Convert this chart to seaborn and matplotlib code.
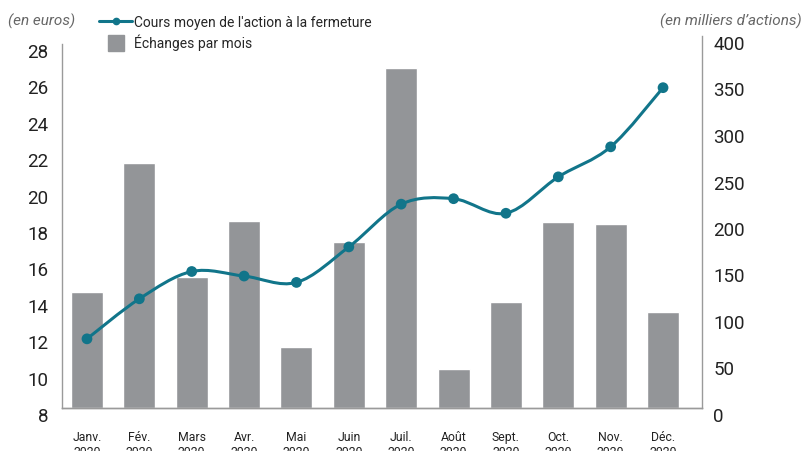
import numpy as np
import pandas as pd
import matplotlib.pyplot as plt
import matplotlib.transforms as mtransforms
import seaborn as sns
from matplotlib.path import Path
from matplotlib.patches import PathPatch
from matplotlib.lines import Line2D

# Data
mois = ["Janv.", "Fév.", "Mars", "Avr.", "Mai", "Juin",
        "Juil.", "Août", "Sept.", "Oct.", "Nov.", "Déc."]
annee = "2020"
cours = [11.8, 14.0, 15.5, 15.25, 14.9, 16.85, 19.2, 19.5, 18.7, 20.7, 22.35, 25.6]
echanges = [125, 263, 141, 201, 66, 178, 366, 42, 114, 200, 198, 103]

teal = "#11758a"
gris = "#939598"

df = pd.DataFrame({"mois": [f"{m}\n{annee}" for m in mois],
                   "cours": cours, "echanges": echanges})

sns.set_theme(style="white")
plt.rcParams["font.family"] = ["Roboto", "DejaVu Sans"]

fig = plt.figure(figsize=(8.06, 4.52), dpi=100)
ax_bar = fig.add_axes([62 / 806, 43 / 452, 640 / 806, 372 / 452])

# bars: trades per month (right axis)
sns.barplot(data=df, x="mois", y="echanges", color=gris, saturation=1,
            width=0.61, ax=ax_bar)
ax_bar.set_ylim(0, 400)
ax_bar.set_yticks(range(0, 401, 50))
ax_bar.set_xlim(-0.477, 11.744)
ax_bar.set_xlabel("")
ax_bar.set_ylabel("")

# line: average closing price (left axis), drawn on top
ax_line = ax_bar.twinx()
ax_bar.yaxis.tick_right()
ax_line.yaxis.tick_left()
ax_line.set_ylim(8, 8 + 372 / 18.2)
ax_line.set_yticks(range(8, 29, 2))

x = np.arange(len(cours))
y = np.array(cours)
n = len(x)
verts = [(x[0], y[0])]
codes = [Path.MOVETO]
for i in range(n - 1):
    p0 = np.array([x[max(i - 1, 0)], y[max(i - 1, 0)]])
    p1 = np.array([x[i], y[i]])
    p2 = np.array([x[i + 1], y[i + 1]])
    p3 = np.array([x[min(i + 2, n - 1)], y[min(i + 2, n - 1)]])
    c1 = p1 + (p2 - p0) / 6
    c2 = p2 - (p3 - p1) / 6
    verts += [tuple(c1), tuple(c2), tuple(p2)]
    codes += [Path.CURVE4] * 3
ax_line.add_patch(PathPatch(Path(verts, codes), facecolor="none",
                            edgecolor=teal, lw=2.2, zorder=2))
sns.scatterplot(x=x, y=y, ax=ax_line, color=teal, s=60, edgecolor="none",
                zorder=3, legend=False)

# spines and ticks
for a in (ax_bar, ax_line):
    a.spines["top"].set_visible(False)
    for s in ("left", "right", "bottom"):
        a.spines[s].set_color("#9a9a9a")
        a.spines[s].set_linewidth(1)
    a.tick_params(length=0)
ax_bar.spines["left"].set_visible(False)
ax_line.spines["right"].set_visible(False)
ax_line.spines["left"].set_bounds(8, 28)

ax_bar.tick_params(axis="y", labelsize=13.5, labelcolor="#222222", pad=8)
ax_line.tick_params(axis="y", labelsize=13.5, labelcolor="#222222", pad=10)
ax_bar.tick_params(axis="x", labelsize=8.8, labelcolor="#222222", pad=16)
for lab in ax_bar.get_xticklabels():
    lab.set_linespacing(1.2)

shift = mtransforms.ScaledTranslation(0, -6 / 100, fig.dpi_scale_trans)
for tick in ax_bar.yaxis.get_major_ticks() + ax_line.yaxis.get_major_ticks():
    for lab in (tick.label1, tick.label2):
        lab.set_transform(lab.get_transform() + shift)

# axis units
fig.text(8 / 806, 1 - 21 / 452, "(en euros)", style="italic", color="#666666",
         fontsize=11, va="center", ha="left")
fig.text(802 / 806, 1 - 21 / 452, "(en milliers d’actions)", style="italic",
         color="#666666", fontsize=11, va="center", ha="right")

# legend
handles = [Line2D([0], [0], color=teal, lw=2.2, marker="o", markersize=4.5),
           Line2D([0], [0], color=gris, marker="s", markersize=11, linestyle="none")]
fig.legend(handles, ["Cours moyen de l'action à la fermeture", "Échanges par mois"],
           loc="upper left", bbox_to_anchor=(99 / 806, 1 - 16 / 452),
           frameon=False, fontsize=10, handlelength=2.4, handletextpad=0.15,
           labelspacing=0.35, borderpad=0, borderaxespad=0)

fig.savefig("out.png", dpi=100)
